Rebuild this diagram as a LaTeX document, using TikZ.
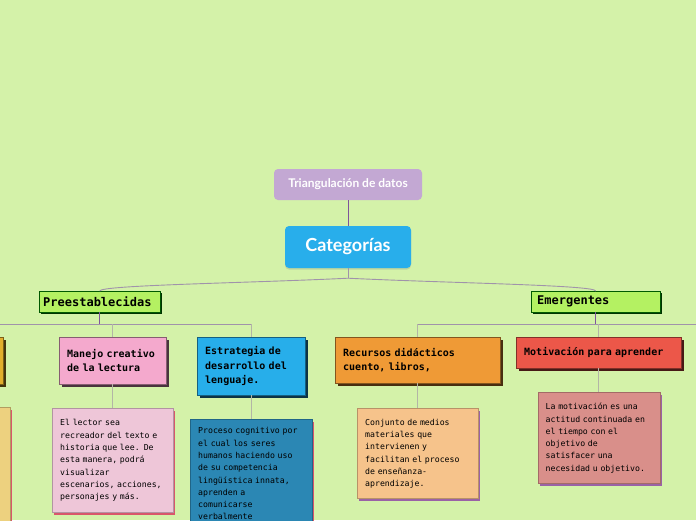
\documentclass[tikz,border=0pt]{standalone}
\usepackage{fontspec}
\setmonofont{DejaVu Sans Mono}
\newfontfamily\titlefont{Lato}
\usetikzlibrary{positioning, shadows, calc}
\definecolor{bgcol}{HTML}{D4F2A9}
\definecolor{triafill}{HTML}{C3A8D3}
\definecolor{catfill}{HTML}{28AEEB}
\definecolor{stemcol}{HTML}{7E559A}
\definecolor{barcol}{HTML}{A093AA}
\definecolor{branchcol}{HTML}{B3B5A6}
\definecolor{mainfill}{HTML}{B4F162}
\definecolor{goldfill}{HTML}{E2AE2C}
\definecolor{pinkfill}{HTML}{F4A9CD}
\definecolor{bluefill}{HTML}{27AEEA}
\definecolor{orangefill}{HTML}{EF9A36}
\definecolor{redfill}{HTML}{EC5749}
\definecolor{ltyellow}{HTML}{EDD17F}
\definecolor{ltpink}{HTML}{EEC6D8}
\definecolor{dkblue}{HTML}{2B87B4}
\definecolor{ltorange}{HTML}{F6C38B}
\definecolor{ltred}{HTML}{D98F8A}
\definecolor{shredcol}{HTML}{D9566B}
\definecolor{shpurple}{HTML}{9A62A6}
\tikzset{
  % root boxes
  rootbox/.style={rectangle, rounded corners=4pt, fill=#1, text=white, align=center},
  % level one
  mainbox/.style={rectangle, draw=green!35!black, fill=mainfill, anchor=north west, align=left,
    font=\ttfamily\bfseries\fontsize{12}{14}\selectfont, inner xsep=4pt, inner ysep=0pt, minimum height=21pt,
    drop shadow={shadow xshift=2pt, shadow yshift=-2pt, fill=green!20!black, opacity=1}},
  % level two
  subbox/.style={rectangle, draw=#1!55!black, fill=#1, anchor=north west, align=left,
    font=\ttfamily\bfseries\fontsize{10}{14.5}\selectfont, inner xsep=8pt, inner ysep=4pt,
    drop shadow={shadow xshift=2.5pt, shadow yshift=-2.5pt, fill=#1!30!black, opacity=1}},
  % notes
  descbox/.style 2 args={rectangle, draw=#1!75!black, fill=#1, align=left,
    font=\ttfamily\fontsize{8.2}{12.3}\selectfont, inner xsep=8pt, inner ysep=8pt,
    drop shadow={shadow xshift=2pt, shadow yshift=-2pt, fill=#2, opacity=1}},
  stem/.style={stemcol, line width=0.8pt},
  bar/.style={barcol, line width=0.9pt},
  branch/.style={branchcol, line width=1pt},
}
\begin{document}
\begin{tikzpicture}[x=1pt, y=-1pt]
    \path[use as bounding box, fill=bgcol] (0,0) rectangle (696,520);

    % Root
    \node[rootbox=triafill, minimum width=148pt, minimum height=31pt,
      font=\titlefont\bfseries\fontsize{12}{14}\selectfont] (tria) at (348,184.5) {Triangulación de datos};
    \node[rootbox=catfill, minimum width=126pt, minimum height=42pt,
      font=\titlefont\bfseries\fontsize{18}{20}\selectfont,
      drop shadow={shadow xshift=0pt, shadow yshift=-1.5pt, opacity=0.25}] (cat) at (348,247) {Categorías};

    % Level one
    \node[mainbox, text width=113pt] (pre) at (39,291) {Preestablecidas};
    \node[mainbox, text width=117pt, inner xsep=6pt] (emer) at (531,291) {Emergentes};

    % Level two
    \node[subbox=goldfill, text width=91pt, minimum height=47pt] (oldleft) at (-104,337) {};
    \node[subbox=pinkfill, text width=91pt, minimum height=47pt] (manejo) at (59,337) {Manejo creativo\\de la lectura};
    \node[subbox=bluefill, text width=92pt, minimum height=58pt] (estr) at (197,337) {Estrategia de\\desarrollo del\\lenguaje.};
    \node[subbox=orangefill, text width=149pt, minimum height=46pt] (recu) at (335,337) {Recursos didácticos\\cuento, libros,};
    \node[subbox=redfill, text width=149pt, minimum height=31pt] (moti) at (516,337) {Motivación para aprender};

    % Notes
    \node[descbox={ltyellow}{shredcol}, text width=105pt, minimum height=130pt, below=23pt of oldleft] (oldleftnote) {};
    \node[descbox={ltpink}{shredcol}, text width=105pt, minimum height=104pt, below=24pt of manejo] (manejonote)
      {El lector sea\\recreador del texto e\\historia que lee. De\\esta manera, podrá\\visualizar\\escenarios, acciones,\\personajes y más.};
    \node[descbox={dkblue}{shredcol}, text width=106pt, below=24pt of estr] (estrnote)
      {Proceso cognitivo por\\el cual los seres\\humanos haciendo uso\\de su competencia\\lingüística innata,\\aprenden a\\comunicarse\\verbalmente};
    \node[descbox={ltorange}{shpurple}, text width=105pt, minimum height=90pt, below=25pt of recu] (recunote)
      {Conjunto de medios\\materiales que\\intervienen y\\facilitan el proceso\\de enseñanza-\\aprendizaje.};
    \node[descbox={ltred}{shpurple}, text width=106pt, minimum height=91pt, below=24pt of moti] (motinote)
      {La motivación es una\\actitud continuada en\\el tiempo con el\\objetivo de\\satisfacer una\\necesidad u objetivo.};

    % Connectors
    \draw[stem] (tria) -- (cat);
    \draw[bar] (cat.south) -- ++(0,10) coordinate (catjoin);
    \draw[bar] (catjoin) .. controls (250,283) and (100,285) .. (pre.north);
    \draw[bar] (catjoin) .. controls (446,283) and (596,285) .. (emer.north);

    \coordinate (prejoin) at ($(pre.south)+(0,12)$);
    \coordinate (emerjoin) at ($(emer.south)+(0,12)$);
    \coordinate (offright) at (720,0 |- emerjoin);
    \draw[stem] (pre.south) -- (prejoin);
    \draw[stem] (emer.south) -- (emerjoin);
    \draw[bar] (oldleft.north |- prejoin) -- (estr.north |- prejoin);
    \draw[bar] (recu.north |- emerjoin) -- (offright);
    \foreach \n in {oldleft, manejo, estr} \draw[branch] (\n.north |- prejoin) -- (\n.north);
    \foreach \n in {recu, moti} \draw[branch] (\n.north |- emerjoin) -- (\n.north);
    \foreach \n in {oldleft, manejo, estr, recu, moti} \draw[branch] (\n.south) -- (\n note.north);
\end{tikzpicture}
\end{document}
